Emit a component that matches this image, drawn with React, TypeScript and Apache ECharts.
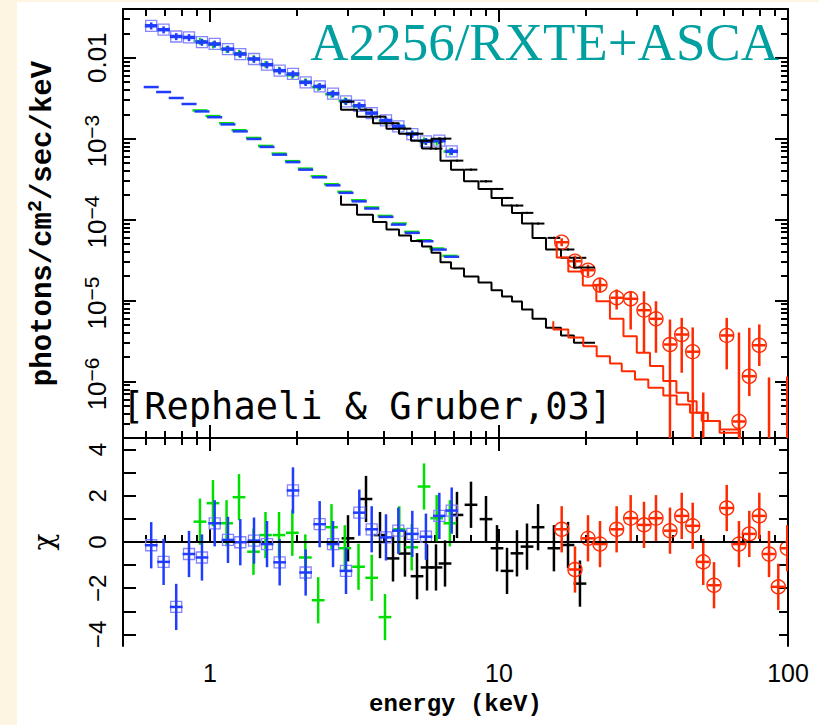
import React, { useEffect, useRef } from "react";
import * as echarts from "echarts";

// ---------- axis ranges & ticks ----------
const X_MIN = 0.5;
const X_MAX = 100;
const Y_MIN = 2e-7;
const Y_MAX = 0.04;
const CHI_MIN = -4.5;
const CHI_MAX = 4.5;

const X_MAJOR_TICKS = [1, 10, 100];
const X_MINOR_TICKS = [0.6, 0.7, 0.8, 0.9, 2, 3, 4, 5, 6, 7, 8, 9, 20, 30, 40, 50, 60, 70, 80, 90];
const Y_MAJOR_TICKS = [1e-6, 1e-5, 1e-4, 1e-3, 1e-2];
const Y_POW_LABELS = [1e-6, 1e-5, 1e-4, 1e-3];
const Y_PLAIN_LABELS = [1e-2];
const Y_DECADES = [1e-7, 1e-6, 1e-5, 1e-4, 1e-3, 1e-2];
const Y_MANTISSAS = [2, 3, 4, 5, 6, 7, 8, 9];
const CHI_TICKS = [-4, -3, -2, -1, 0, 1, 2, 3, 4];
const CHI_LABELS = [-4, -2, 0, 2, 4];

// ---------- ASCA (blue) ----------
const BLUE_E = [0.626, 0.691, 0.764, 0.846, 0.938, 1.038, 1.154, 1.273, 1.42, 1.575, 1.742, 1.937, 2.143, 2.396, 2.665, 2.955, 3.286, 3.627, 4.064, 4.484, 5.012, 5.587, 6.216, 6.86];
const BLUE_FLUX = [0.0248, 0.0222, 0.0183, 0.0178, 0.0156, 0.0148, 0.0128, 0.0111, 0.00964, 0.0082, 0.00691, 0.0063, 0.00496, 0.00442, 0.0036, 0.00289, 0.00255, 0.00207, 0.00168, 0.00142, 0.00114, 0.000927, 0.000945, 0.000697];
const BLUE_CHI = [-0.14, -0.86, -2.81, -0.52, -0.67, 0.81, 0.09, -0.01, 0.06, -0.09, -0.88, 2.23, -1.32, 0.77, -0.09, -1.25, 1.27, 0.55, 0.2, 0.49, 0.35, 0.23, 1.13, 1.36];
const BLUE_COMP = [4.34e-3, 3.77e-3, 3.18e-3, 2.68e-3, 2.17e-3, 1.84e-3, 1.5e-3, 1.23e-3, 9.91e-4, 7.9e-4, 6.34e-4, 5.13e-4, 4.14e-4, 3.33e-4, 2.65e-4, 2.14e-4, 1.68e-4, 1.37e-4, 1.08e-4, 8.67e-5, 6.85e-5, 5.4e-5, 4.26e-5, 3.47e-5];

// ---------- ASCA (green) ----------
const GREEN_E = [0.923, 1.024, 1.141, 1.26, 1.414, 1.556, 1.733, 1.927, 2.137, 2.368, 2.633, 2.927, 3.265, 3.627, 4.032, 4.519, 4.988, 5.503, 6.087, 6.761];
const GREEN_FLUX = [0.016, 0.01445, 0.01273, 0.01137, 0.00972, 0.00832, 0.00702, 0.00608, 0.00506, 0.00433, 0.00354, 0.00294, 0.00252, 0.00206, 0.00167, 0.00141, 0.00115, 0.000944, 0.000918, 0.000692];
const GREEN_CHI = [0.88, 1.68, 0.81, 1.94, -0.42, 0.3, 0.3, 0.4, -0.67, -2.52, 0.64, -0.27, -1.07, -1.55, -3.25, 0.55, -0.23, 2.4, 1.03, 0.81];
const GREEN_COMP = [2.23e-3, 1.9e-3, 1.55e-3, 1.27e-3, 1.02e-3, 8.13e-4, 6.53e-4, 5.27e-4, 4.26e-4, 3.42e-4, 2.73e-4, 2.2e-4, 1.73e-4, 1.41e-4, 1.11e-4, 8.93e-5, 7.05e-5, 5.55e-5, 4.39e-5, 3.56e-5];

// ---------- RXTE PCA (black) ----------
const BLACK_E = [3.003, 3.466, 3.875, 4.298, 4.727, 5.204, 5.636, 6.053, 6.505, 7.155, 8.0, 9.016, 9.843, 10.66, 11.54, 12.5, 13.65, 15.49, 17.33, 19.06];
const BLACK_FLUX = [2.87e-3, 2.28e-3, 1.87e-3, 1.55e-3, 1.33e-3, 1.15e-3, 9.44e-4, 7.53e-4, 1.0e-3, 5.35e-4, 4.14e-4, 2.97e-4, 2.39e-4, 1.85e-4, 1.49e-4, 1.21e-4, 8.93e-5, 5.94e-5, 4.27e-5, 3.37e-5];
const BLACK_CHI = [0.16, 1.86, 0.3, -0.71, -0.5, -1.48, -1.1, -1.1, -0.93, 1.17, 1.61, 0.99, -0.27, -1.25, -0.49, -0.2, 0.64, -0.27, -0.13, -1.8];
const BLACK_EDGES = [2.84, 3.227, 3.664, 4.08, 4.508, 4.961, 5.415, 5.84, 6.274, 6.823, 7.567, 8.492, 9.42, 10.24, 11.09, 12.01, 13.06, 14.54, 16.39, 18.17, 20.16, 21.5];
const BLACK_MODEL = [2.87e-3, 2.28e-3, 1.87e-3, 1.55e-3, 1.33e-3, 1.15e-3, 9.44e-4, 7.53e-4, 1.0e-3, 5.35e-4, 4.14e-4, 2.97e-4, 2.39e-4, 1.85e-4, 1.49e-4, 1.21e-4, 8.93e-5, 5.94e-5, 4.27e-5, 3.37e-5, 2.55e-5];
const BLACK_COMP = [1.98e-4, 1.53e-4, 1.15e-4, 9.31e-5, 7.53e-5, 6.34e-5, 5.43e-5, 4.65e-5, 3.88e-5, 2.97e-5, 2.48e-5, 1.98e-5, 1.67e-5, 1.34e-5, 1.12e-5, 9.72e-6, 7.74e-6, 5.94e-6, 4.6e-6, 3.7e-6, 3.0e-6];

// ---------- RXTE HEXTE (red) ----------
const RED_E = [16.48, 18.32, 20.32, 22.36, 25.53, 28.55, 31.75, 34.93, 39.05, 42.88, 46.8, 50.9, 55.46, 61.37, 67.66, 73.47, 79.56, 85.97, 92.55, 99.4];
const RED_FLUX = [5.25e-5, 3.06e-5, 2.37e-5, 1.55e-5, 1.08e-5, 1.05e-5, 7.59e-6, 5.94e-6, 2.86e-6, 3.8e-6, 2.33e-6, 1.0e-7, 1.0e-7, 3.7e-6, 3.2e-7, 1.16e-6, 2.8e-6, 1.0e-7, 1.0e-7, 1.0e-7];
const RED_HI = [5.87e-5, 3.6e-5, 2.78e-5, 1.87e-5, 1.37e-5, 1.3e-5, 1.3e-5, 9.8e-6, 5.82e-6, 6.1e-6, 4.65e-6, 7.3e-7, 1.5e-7, 6.1e-6, 4.03e-6, 4.6e-6, 5.06e-6, 1.12e-6, 1.5e-7, 1.15e-6];
const RED_LO = [4.68e-5, 2.63e-5, 1.98e-5, 1.26e-5, 7.74e-6, 4.38e-6, 2.26e-6, 2.26e-6, 1e-8, 1.28e-6, 1e-8, 1e-8, 1e-8, 1.41e-6, 1e-8, 6.59e-7, 1.55e-6, 1e-8, 1e-8, 1e-8];
const RED_CHI = [0.55, -1.19, 0.16, -0.09, 0.55, 1.03, 0.74, 1.03, 0.49, 1.13, 0.7, -0.86, -1.87, 1.47, -0.09, 0.35, 1.13, -0.52, -1.94, -0.27];
const RED_EDGES = [15.84, 17.37, 19.5, 21.72, 24.2, 26.96, 29.98, 33.3, 37.0, 41.1, 45.1, 48.3, 52.8, 58.0, 68.1, 79.9, 100];
const RED_MODEL = [5.2e-5, 3.4e-5, 2.28e-5, 1.53e-5, 9.8e-6, 5.94e-6, 3.62e-6, 2.26e-6, 1.55e-6, 1.01e-6, 7.24e-7, 5.71e-7, 4.11e-7, 3.24e-7, 2.33e-7, 1.5e-7];
const RED_COMP_EDGES = [15.41, 17.37, 19.57, 21.78, 24.21, 26.59, 29.55, 32.86, 37.03, 41.19, 45.8, 50.28, 58.2, 68.2, 80.0, 100];
const RED_COMP = [5.55e-6, 4.38e-6, 3.49e-6, 2.73e-6, 2.05e-6, 1.67e-6, 1.34e-6, 1.06e-6, 8.36e-7, 6.72e-7, 5.2e-7, 4.11e-7, 3.24e-7, 2.55e-7, 1.5e-7];

// bin half widths (decades) and fractional flux errors of the soft data
const BIN_HALF_DEX = 0.022;
const COMP_HALF_DEX = 0.026;
const ASCA_FRAC_ERR = 0.1;
const PCA_FRAC_ERR = 0.03;

const C_BLUE = "#1f3cff";
const C_SQUARE = "#8585ff";
const C_GREEN = "#00e000";
const C_BLACK = "#000000";
const C_RED = "#ff2a00";

const TICK_FONT = "Liberation Sans";
const TITLE_FONT = "Liberation Mono";

function crossRenderer(color: string, vLw: number, hLw: number, marker: string, chi: boolean) {
  return (params: any, api: any) => {
    const e = api.value(0);
    const v = api.value(1);
    const lo = chi ? v - 1 : api.value(2);
    const hi = chi ? v + 1 : api.value(3);
    const k = Math.pow(10, BIN_HALF_DEX);
    const a = api.coord([e / k, v]);
    const b = api.coord([e * k, v]);
    const t = api.coord([e, hi]);
    const u = api.coord([e, lo]);
    const c = api.coord([e, v]);
    const kids: any[] = [];
    if (marker === "square") {
      kids.push({ type: "rect", shape: { x: c[0] - 5.5, y: c[1] - 5.5, width: 11, height: 11 }, style: { fill: "none", stroke: C_SQUARE, lineWidth: 1.3 } });
    }
    kids.push({ type: "line", shape: { x1: a[0], y1: a[1], x2: b[0], y2: b[1] }, style: { stroke: color, lineWidth: hLw } });
    kids.push({ type: "line", shape: { x1: t[0], y1: t[1], x2: u[0], y2: u[1] }, style: { stroke: color, lineWidth: vLw } });
    if (marker === "circle") {
      kids.push({ type: "circle", shape: { cx: c[0], cy: c[1], r: 7 }, style: { fill: "none", stroke: color, lineWidth: 1.4 } });
    }
    return { type: "group", children: kids };
  };
}

function dashRenderer(color: string) {
  return (params: any, api: any) => {
    const e = api.value(0);
    const v = api.value(1);
    const k = Math.pow(10, COMP_HALF_DEX);
    const a = api.coord([e / k, v]);
    const b = api.coord([e * k, v]);
    return { type: "line", shape: { x1: a[0], y1: a[1], x2: b[0], y2: b[1] }, style: { stroke: color, lineWidth: 2.5 } };
  };
}

function stepData(edges: number[], vals: number[]) {
  const d = vals.map((v, i) => [edges[i], v]);
  d.push([edges[vals.length], vals[vals.length - 1]]);
  return d;
}

function topPoints(E: number[], F: number[], frac: number) {
  return E.map((e, i) => [e, F[i], F[i] * (1 - frac), F[i] * (1 + frac)]);
}

function pairs(E: number[], C: number[]) {
  return E.map((e, i) => [e, C[i]]);
}

export default function App() {
  const ref = useRef<HTMLDivElement>(null);
  useEffect(() => {
    if (!ref.current) return;
    const chart = echarts.init(ref.current, undefined, { renderer: "svg" });
    const line = { show: true, lineStyle: { color: "#000", width: 2 } };
    const noLine = { show: false };
    const yMinor = Y_DECADES.flatMap((d) => Y_MANTISSAS.map((m) => m * d)).filter((v) => v > Y_MIN && v < Y_MAX);

    const xAx = (grid: number, pos: string, ticks: number[], len: number, showLine: boolean, extra: any = {}) => ({
      type: "log",
      logBase: 10,
      gridIndex: grid,
      position: pos,
      min: X_MIN,
      max: X_MAX,
      axisLine: showLine ? line : noLine,
      axisTick: { show: true, inside: true, length: len, customValues: ticks, lineStyle: { color: "#000", width: 2 } },
      axisLabel: { show: false },
      splitLine: { show: false },
      ...extra,
    });
    const yLogAx = (pos: string, ticks: number[] | null, len: number, showLine: boolean, extra: any = {}) => ({
      type: "log",
      logBase: 10,
      gridIndex: 0,
      position: pos,
      min: Y_MIN,
      max: Y_MAX,
      axisLine: showLine ? line : noLine,
      axisTick: ticks ? { show: true, inside: true, length: len, customValues: ticks, lineStyle: { color: "#000", width: 2 } } : { show: false },
      axisLabel: { show: false },
      splitLine: { show: false },
      ...extra,
    });
    const yChiAx = (pos: string, len: number, extra: any = {}) => ({
      type: "value",
      gridIndex: 1,
      position: pos,
      min: CHI_MIN,
      max: CHI_MAX,
      axisLine: line,
      axisTick: { show: true, inside: true, length: len, customValues: CHI_TICKS, lineStyle: { color: "#000", width: 2 } },
      axisLabel: { show: false },
      splitLine: { show: false },
      ...extra,
    });
    const tickLabel = { show: true, rotate: 90, fontFamily: TICK_FONT, color: "#000", verticalAlign: "bottom" };

    const option: any = {
      animation: false,
      backgroundColor: "#fdf5e1",
      graphic: [
        { type: "rect", left: 17, top: 2, z: -100, shape: { width: 810, height: 730 }, style: { fill: "#ffffff" } },
        { type: "text", right: 40, top: 15, z: 10, style: { text: "A2256/RXTE+ASCA", font: '53px "Liberation Serif"', fill: "#00a0a0" } },
        { type: "text", left: 122, top: 388, z: 10, style: { text: "[Rephaeli & Gruber,03]", font: '37px "DejaVu Sans Mono"', fill: "#000" } },
      ],
      grid: [
        { left: 123, top: 9, width: 665, height: 429 },
        { left: 123, top: 438, width: 665, height: 208 },
      ],
      xAxis: [
        xAx(0, "bottom", X_MAJOR_TICKS, 13, true),
        xAx(0, "bottom", X_MINOR_TICKS, 7, false),
        xAx(0, "top", X_MAJOR_TICKS, 13, true),
        xAx(0, "top", X_MINOR_TICKS, 7, false),
        xAx(1, "bottom", X_MAJOR_TICKS, 13, true, {
          axisLabel: { show: true, customValues: X_MAJOR_TICKS, margin: 14, fontFamily: TICK_FONT, fontSize: 25, color: "#000" },
          name: "energy (keV)",
          nameLocation: "middle",
          nameGap: 46,
          nameTextStyle: { fontFamily: TITLE_FONT, fontWeight: "bold", fontSize: 24, color: "#000" },
        }),
        xAx(1, "bottom", X_MINOR_TICKS, 7, false),
        xAx(1, "top", X_MAJOR_TICKS, 13, true),
        xAx(1, "top", X_MINOR_TICKS, 7, false),
      ],
      yAxis: [
        // 0: left major ticks, mantissa "10" of the power labels, axis title
        yLogAx("left", Y_MAJOR_TICKS, 13, true, {
          axisLabel: { ...tickLabel, customValues: Y_POW_LABELS, margin: 13, fontSize: 26, align: "right", formatter: () => "10" },
          name: "{a|photons/cm}{s|2}{a|/sec/keV}",
          nameLocation: "middle",
          nameRotate: 90,
          nameGap: 62,
          nameTextStyle: {
            rich: {
              a: { fontFamily: TITLE_FONT, fontWeight: "bold", fontSize: 29, color: "#000", lineHeight: 36 },
              s: { fontFamily: TITLE_FONT, fontWeight: "bold", fontSize: 20, color: "#000", lineHeight: 20, verticalAlign: "top" },
            },
          },
        }),
        // 1: left minor ticks
        yLogAx("left", yMinor, 7, false),
        // 2,3: right ticks
        yLogAx("right", Y_MAJOR_TICKS, 13, true),
        yLogAx("right", yMinor, 7, false),
        // 4,5: residual panel
        yChiAx("left", 13, {
          axisLabel: {
            ...tickLabel,
            customValues: CHI_LABELS,
            margin: 14,
            fontSize: 24,
            formatter: (v: number) => (v < 0 ? "−" + -v : String(v)),
          },
          name: "χ",
          nameLocation: "middle",
          nameRotate: 90,
          nameGap: 66,
          nameTextStyle: { fontFamily: "DejaVu Serif", fontSize: 28, color: "#000" },
        }),
        yChiAx("right", 9),
        // 6: plain "0.01" label
        yLogAx("left", null, 0, false, {
          axisLabel: { ...tickLabel, customValues: Y_PLAIN_LABELS, margin: 13, fontSize: 26, align: "center", formatter: () => "0.01" },
        }),
        // 7: exponents of the power labels
        yLogAx("left", null, 0, false, {
          axisLabel: {
            ...tickLabel,
            customValues: Y_POW_LABELS,
            margin: 21,
            fontSize: 21,
            align: "left",
            formatter: (v: number) => "−" + -Math.round(Math.log10(v)),
          },
        }),
      ],
      series: [
        // top panel: model components
        { type: "custom", xAxisIndex: 0, yAxisIndex: 0, silent: true, clip: true, renderItem: dashRenderer(C_GREEN), encode: { x: 0, y: 1 }, data: pairs(GREEN_E, GREEN_COMP) },
        { type: "custom", xAxisIndex: 0, yAxisIndex: 0, silent: true, clip: true, renderItem: dashRenderer(C_BLUE), encode: { x: 0, y: 1 }, data: pairs(BLUE_E, BLUE_COMP) },
        { type: "line", xAxisIndex: 0, yAxisIndex: 0, silent: true, step: "start", symbol: "none", lineStyle: { color: C_BLACK, width: 2 }, data: stepData(BLACK_EDGES, BLACK_COMP) },
        { type: "line", xAxisIndex: 0, yAxisIndex: 0, silent: true, step: "start", symbol: "none", lineStyle: { color: C_BLACK, width: 2 }, data: stepData(BLACK_EDGES, BLACK_MODEL) },
        { type: "line", xAxisIndex: 0, yAxisIndex: 0, silent: true, step: "start", symbol: "none", lineStyle: { color: C_RED, width: 2 }, data: stepData(RED_COMP_EDGES, RED_COMP) },
        { type: "line", xAxisIndex: 0, yAxisIndex: 0, silent: true, step: "start", symbol: "none", lineStyle: { color: C_RED, width: 2 }, data: stepData(RED_EDGES, RED_MODEL) },
        // top panel: data
        { type: "custom", xAxisIndex: 0, yAxisIndex: 0, silent: true, clip: true, renderItem: crossRenderer(C_GREEN, 2, 2.5, "none", false), encode: { x: 0, y: 1 }, data: topPoints(GREEN_E, GREEN_FLUX, ASCA_FRAC_ERR) },
        { type: "custom", xAxisIndex: 0, yAxisIndex: 0, silent: true, clip: true, renderItem: crossRenderer(C_BLUE, 2.5, 3.5, "square", false), encode: { x: 0, y: 1 }, data: topPoints(BLUE_E, BLUE_FLUX, ASCA_FRAC_ERR) },
        { type: "custom", xAxisIndex: 0, yAxisIndex: 0, silent: true, clip: true, renderItem: crossRenderer(C_BLACK, 2, 2, "none", false), encode: { x: 0, y: 1 }, data: topPoints(BLACK_E, BLACK_FLUX, PCA_FRAC_ERR) },
        { type: "custom", xAxisIndex: 0, yAxisIndex: 0, silent: true, clip: true, renderItem: crossRenderer(C_RED, 2.5, 2.5, "circle", false), encode: { x: 0, y: 1 }, data: RED_E.map((e, i) => [e, RED_FLUX[i], RED_LO[i], RED_HI[i]]) },
        // residual panel
        { type: "line", xAxisIndex: 4, yAxisIndex: 4, silent: true, symbol: "none", lineStyle: { color: "#000", width: 2, type: [12, 13] }, data: [[X_MIN, 0], [X_MAX, 0]] },
        { type: "custom", xAxisIndex: 4, yAxisIndex: 4, silent: true, clip: true, renderItem: crossRenderer(C_BLACK, 2.5, 2.5, "none", true), encode: { x: 0, y: 1 }, data: pairs(BLACK_E, BLACK_CHI) },
        { type: "custom", xAxisIndex: 4, yAxisIndex: 4, silent: true, clip: true, renderItem: crossRenderer(C_GREEN, 2.5, 2.5, "none", true), encode: { x: 0, y: 1 }, data: pairs(GREEN_E, GREEN_CHI) },
        { type: "custom", xAxisIndex: 4, yAxisIndex: 4, silent: true, clip: true, renderItem: crossRenderer(C_BLUE, 2.5, 2.5, "square", true), encode: { x: 0, y: 1 }, data: pairs(BLUE_E, BLUE_CHI) },
        { type: "custom", xAxisIndex: 4, yAxisIndex: 4, silent: true, clip: true, renderItem: crossRenderer(C_RED, 2.5, 2.5, "circle", true), encode: { x: 0, y: 1 }, data: pairs(RED_E, RED_CHI) },
      ],
    };
    chart.setOption(option);
    return () => chart.dispose();
  }, []);
  return <div ref={ref} style={{ position: "fixed", left: 0, top: 0, width: 819, height: 725 }} />;
}
